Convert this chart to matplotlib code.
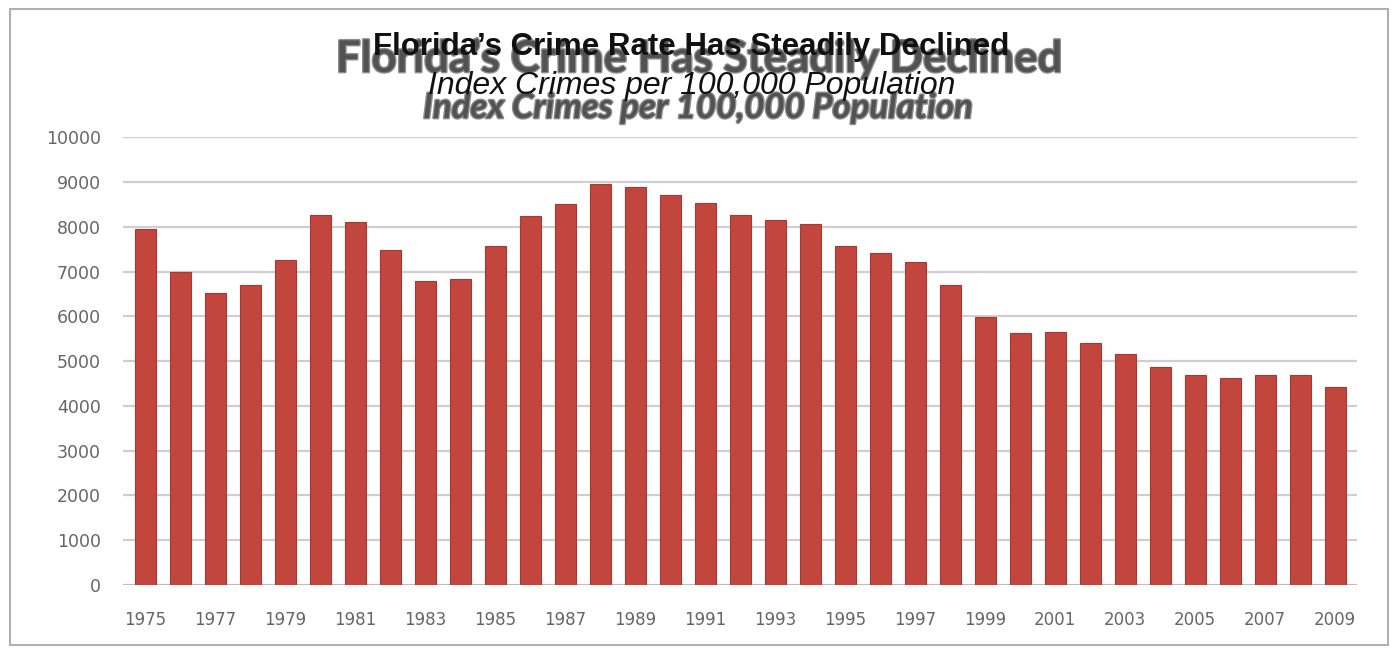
import matplotlib
matplotlib.use("Agg")
import matplotlib.pyplot as plt
import matplotlib.patheffects as pe
from matplotlib.patches import Rectangle

# index crimes per 100,000 population
years = list(range(1975, 2010))
rates = [7940, 6990, 6520, 6700, 7250, 8260, 8110, 7490, 6790, 6830,
         7570, 8230, 8500, 8960, 8880, 8700, 8530, 8260, 8160, 8060,
         7560, 7420, 7220, 6700, 5990, 5620, 5640, 5400, 5150, 4860,
         4680, 4630, 4700, 4700, 4430]
yticks = list(range(0, 10001, 1000))
xlabels = [str(y) for y in years[::2]]

title = "Florida\u2019s Crime Rate Has Steadily Declined"
subtitle = "Index Crimes per 100,000 Population"
ghost_title = "Florida\u2019s Crime Has Steadily Declined"

W, H = 1394, 649
fig = plt.figure(figsize=(W / 100, H / 100), dpi=100)
ax = fig.add_axes([0.0882, 0.0986, 0.8853, 0.690])

x = list(range(len(years)))
ax.bar(x, rates, width=0.6, color="#C3463E", edgecolor="#A23A33", linewidth=0.8, zorder=3)

ax.set_xlim(-0.63, len(years) - 1 + 0.63)
ax.set_ylim(0, 10000)
ax.set_yticks(yticks)
ax.set_yticklabels([str(t) for t in yticks], family="DejaVu Sans", fontsize=12.5, color="#666666")
ax.set_xticks(x[::2])
ax.set_xticklabels(xlabels, family="DejaVu Sans", fontsize=12, color="#666666")
ax.tick_params(axis="both", length=0)
ax.tick_params(axis="y", pad=16)
ax.tick_params(axis="x", pad=19)
ax.grid(axis="y", color="#cfcfcf", linewidth=1.6, zorder=0)
for s in ax.spines.values():
    s.set_visible(False)
ax.axhline(0, color="#bbbbbb", linewidth=1.2, zorder=2)

# light frame of the scanned chart
fig.patches.append(Rectangle((10 / W, 4 / H), 1378 / W, 636 / H,
                             transform=fig.transFigure, fill=False,
                             edgecolor="#b0b0b0", linewidth=1.5))

# faded original heading underneath
blur = [pe.withStroke(linewidth=2, foreground="#8e8e8e")]
fig.text(699 / W, 1 - 72 / H, ghost_title, ha="center", va="baseline",
         family="Lato", weight="bold", fontsize=31.5, color="#525252", path_effects=blur)
fig.text(698 / W, 1 - 118 / H, subtitle, ha="center", va="baseline",
         family="Lato", weight="bold", style="italic", fontsize=25, color="#525252",
         path_effects=blur)

# typed heading on top
fig.text(691 / W, 1 - 55 / H, title, ha="center", va="baseline",
         family="Liberation Sans", weight="bold", fontsize=22.5, color="#111111")
fig.text(692 / W, 1 - 94 / H, subtitle, ha="center", va="baseline",
         family="Liberation Sans", style="italic", fontsize=23, color="#111111")

fig.savefig("out.png", dpi=100, facecolor="white")
